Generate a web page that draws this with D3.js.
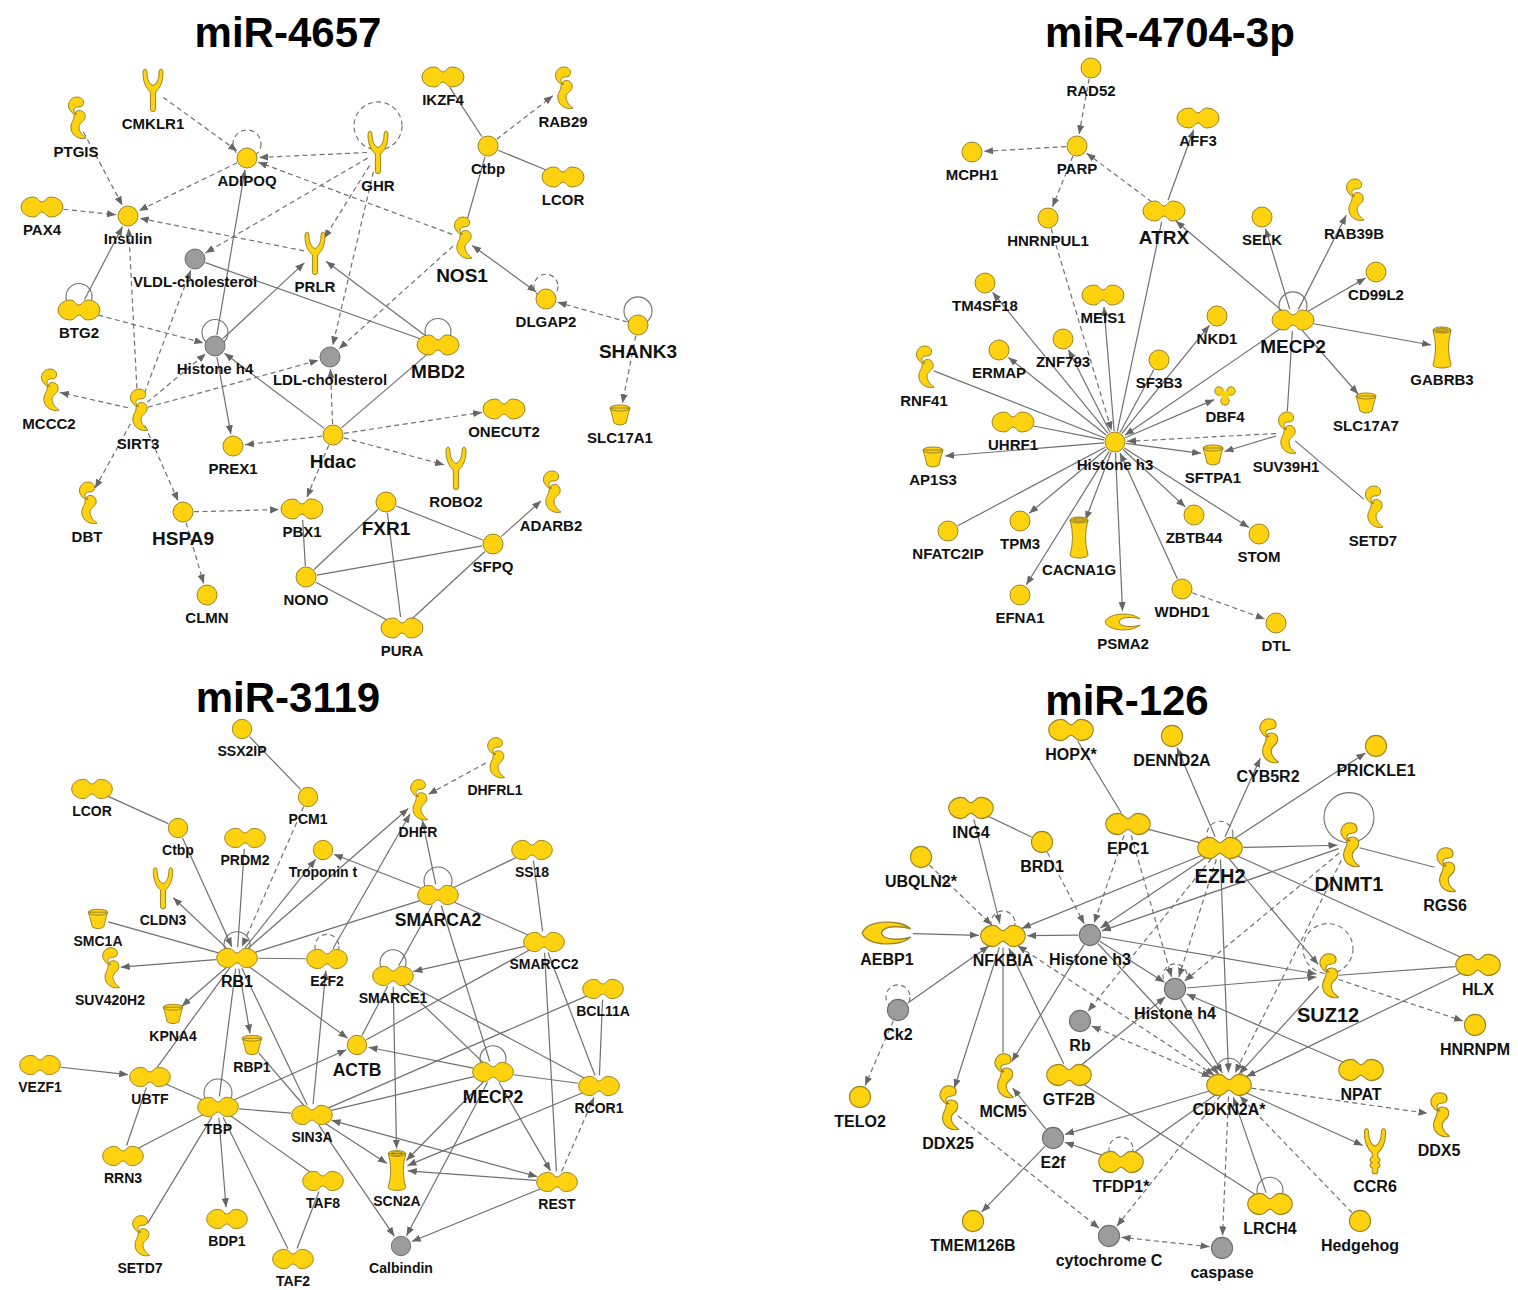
<!DOCTYPE html>
<html>
<head>
<meta charset="utf-8">
<script src="https://cdnjs.cloudflare.com/ajax/libs/d3/7.8.5/d3.min.js"></script>
<style>
  body { margin: 0; background: #fff; }
  svg { display: block; }
</style>
</head>
<body>
<div id="chart"></div>
<script>
const W = 1518, H = 1290;

// panel titles
const titles = ["miR-4657", "miR-4704-3p", "miR-3119", "miR-126"];

// nodes: [id, type, x, y, emphasis]  (panel-local coordinates)
const nodes4657 = [
  ["CMKLR1", "receptor", 153, 90], ["PTGIS", "enzyme", 76, 118], ["ADIPOQ", "circle", 247, 158],
  ["GHR", "receptor", 378, 152], ["IKZF4", "peanut", 443, 77], ["RAB29", "enzyme", 563, 88],
  ["Ctbp", "circle", 488, 146], ["LCOR", "peanut", 563, 177], ["PAX4", "peanut", 42, 207],
  ["Insulin", "circle", 128, 216], ["NOS1", "enzyme", 462, 238, 2], ["VLDL-cholesterol", "group", 195, 259],
  ["PRLR", "receptor", 315, 253], ["BTG2", "peanut", 79, 310], ["DLGAP2", "circle", 546, 299],
  ["SHANK3", "circle", 638, 325, 2], ["Histone h4", "group", 215, 346], ["LDL-cholesterol", "group", 330, 357],
  ["MBD2", "peanut", 438, 345, 2], ["MCCC2", "enzyme", 49, 390], ["SIRT3", "enzyme", 138, 410],
  ["PREX1", "circle", 233, 446], ["Hdac", "circle", 333, 435, 2], ["ONECUT2", "peanut", 504, 409],
  ["SLC17A1", "transporter", 620, 415], ["ROBO2", "receptor", 456, 468], ["DBT", "enzyme", 87, 503],
  ["HSPA9", "circle", 183, 512, 2], ["PBX1", "peanut", 302, 509], ["FXR1", "circle", 386, 502, 2],
  ["ADARB2", "enzyme", 551, 492], ["SFPQ", "circle", 493, 544], ["NONO", "circle", 306, 577],
  ["CLMN", "circle", 207, 595], ["PURA", "peanut", 402, 628]
];
// edges: [source, target, line (s solid / d dashed), arrow (t target / b both / "" none)]
const edges4657 = [
  ["CMKLR1", "ADIPOQ", "d", "t"], ["PTGIS", "Insulin", "d", "t"], ["PAX4", "Insulin", "d", "t"],
  ["ADIPOQ", "Insulin", "d", "t"], ["GHR", "ADIPOQ", "d", "t"], ["NOS1", "ADIPOQ", "d", "t"],
  ["GHR", "VLDL-cholesterol", "d", "t"], ["GHR", "PRLR", "d", "t"], ["GHR", "LDL-cholesterol", "d", "t"],
  ["PRLR", "Insulin", "d", "t"], ["BTG2", "Insulin", "s", "t"], ["BTG2", "Histone h4", "d", "t"],
  ["SIRT3", "Insulin", "d", "t"], ["SIRT3", "VLDL-cholesterol", "d", "t"], ["Histone h4", "ADIPOQ", "s", "t"],
  ["Histone h4", "PRLR", "s", "t"], ["VLDL-cholesterol", "MBD2", "s", ""], ["MBD2", "PRLR", "s", "t"],
  ["NOS1", "LDL-cholesterol", "d", "t"], ["SIRT3", "MCCC2", "d", "t"], ["SIRT3", "Histone h4", "d", "t"],
  ["SIRT3", "LDL-cholesterol", "d", "t"], ["SIRT3", "DBT", "d", "t"], ["SIRT3", "HSPA9", "d", "t"],
  ["HSPA9", "PBX1", "d", "t"], ["HSPA9", "CLMN", "d", "t"], ["Histone h4", "PREX1", "s", "t"],
  ["Hdac", "PREX1", "d", "t"], ["Hdac", "Histone h4", "s", "t"], ["Hdac", "LDL-cholesterol", "d", "t"],
  ["Hdac", "PBX1", "d", "t"], ["Hdac", "ONECUT2", "d", "t"], ["Hdac", "ROBO2", "d", "t"],
  ["Hdac", "MBD2", "s", ""], ["PBX1", "NONO", "s", ""], ["NONO", "FXR1", "s", ""],
  ["NONO", "SFPQ", "s", ""], ["NONO", "PURA", "s", ""], ["FXR1", "SFPQ", "s", ""],
  ["FXR1", "PURA", "s", ""], ["SFPQ", "PURA", "s", ""], ["SFPQ", "ADARB2", "s", "t"],
  ["Ctbp", "IKZF4", "s", ""], ["Ctbp", "RAB29", "d", "t"], ["Ctbp", "LCOR", "s", ""],
  ["Ctbp", "NOS1", "s", ""], ["NOS1", "DLGAP2", "s", "b"], ["SHANK3", "DLGAP2", "d", "t"],
  ["SHANK3", "SLC17A1", "d", "t"]
];
// self loops: [id, line, radius]
const loops4657 = [
  ["ADIPOQ", "d", 14], ["GHR", "d", 24], ["BTG2", "s", 13], ["Histone h4", "s", 13],
  ["DLGAP2", "d", 12], ["SHANK3", "s", 14], ["MBD2", "s", 13]
];

const nodes4704 = [
  ["RAD52", "circle", 331, 68], ["PARP", "circle", 317, 146], ["MCPH1", "circle", 212, 152],
  ["AFF3", "peanut", 438, 118], ["HNRNPUL1", "circle", 288, 218], ["ATRX", "peanut", 404, 211, 2],
  ["SELK", "circle", 502, 217], ["RAB39B", "enzyme", 594, 200], ["CD99L2", "circle", 616, 272],
  ["TM4SF18", "circle", 225, 283], ["MEIS1", "peanut", 343, 295], ["NKD1", "circle", 457, 316],
  ["MECP2", "peanut", 533, 320, 2], ["ZNF793", "circle", 303, 339], ["ERMAP", "circle", 239, 350],
  ["SF3B3", "circle", 399, 360], ["GABRB3", "ion", 682, 347], ["RNF41", "enzyme", 164, 367],
  ["DBF4", "kinase", 465, 395], ["SLC17A7", "transporter", 606, 403], ["UHRF1", "peanut", 253, 422],
  ["Histone h3", "circle", 355, 442], ["SUV39H1", "enzyme", 526, 433], ["AP1S3", "transporter", 173, 457],
  ["SFTPA1", "transporter", 453, 455], ["SETD7", "enzyme", 613, 507], ["ZBTB44", "circle", 434, 515],
  ["TPM3", "circle", 260, 521], ["NFATC2IP", "circle", 188, 531], ["STOM", "circle", 499, 534],
  ["CACNA1G", "ion", 319, 537], ["EFNA1", "circle", 260, 595], ["WDHD1", "circle", 422, 589],
  ["PSMA2", "peptidase", 363, 622], ["DTL", "circle", 516, 623]
];
const edges4704 = [
  ["RAD52", "PARP", "d", "t"], ["PARP", "MCPH1", "d", "t"], ["PARP", "HNRNPUL1", "d", "t"],
  ["ATRX", "PARP", "d", "t"], ["ATRX", "AFF3", "s", "t"], ["MECP2", "ATRX", "s", "t"],
  ["HNRNPUL1", "Histone h3", "d", "t"], ["Histone h3", "ATRX", "s", ""], ["Histone h3", "TM4SF18", "s", "t"],
  ["Histone h3", "MEIS1", "s", "t"], ["Histone h3", "ERMAP", "s", "t"], ["Histone h3", "ZNF793", "s", "t"],
  ["SF3B3", "Histone h3", "s", ""], ["Histone h3", "NKD1", "s", "t"], ["RNF41", "Histone h3", "s", ""],
  ["UHRF1", "Histone h3", "s", ""], ["Histone h3", "AP1S3", "s", "t"], ["Histone h3", "DBF4", "s", "t"],
  ["MECP2", "Histone h3", "s", "t"], ["SUV39H1", "Histone h3", "d", "t"], ["Histone h3", "SFTPA1", "s", "t"],
  ["SUV39H1", "SFTPA1", "s", "t"], ["SUV39H1", "SETD7", "s", ""], ["MECP2", "SUV39H1", "s", ""],
  ["MECP2", "SELK", "s", "t"], ["MECP2", "RAB39B", "s", "t"], ["MECP2", "CD99L2", "s", "t"],
  ["MECP2", "GABRB3", "s", "t"], ["MECP2", "SLC17A7", "s", "t"], ["NFATC2IP", "Histone h3", "s", ""],
  ["Histone h3", "TPM3", "s", "t"], ["Histone h3", "CACNA1G", "s", "t"], ["Histone h3", "EFNA1", "s", "t"],
  ["Histone h3", "PSMA2", "s", "t"], ["WDHD1", "Histone h3", "s", "t"], ["Histone h3", "ZBTB44", "s", "t"],
  ["Histone h3", "STOM", "s", "t"], ["WDHD1", "DTL", "d", "t"]
];
const loops4704 = [["MECP2", "s", 14]];

const nodes3119 = [
  ["SSX2IP", "circle", 242, 69], ["DHFRL1", "enzyme", 495, 98], ["LCOR", "peanut", 92, 129],
  ["PCM1", "circle", 308, 137], ["DHFR", "enzyme", 418, 140], ["Ctbp", "circle", 178, 168],
  ["PRDM2", "peanut", 245, 178], ["Troponin t", "circle", 323, 190], ["SS18", "peanut", 532, 190],
  ["CLDN3", "receptor", 163, 228], ["SMARCA2", "peanut", 438, 235, 2], ["SMC1A", "transporter", 98, 259],
  ["SMARCC2", "peanut", 544, 282], ["RB1", "peanut", 237, 298, 1], ["E2F2", "peanut", 327, 299],
  ["SMARCE1", "peanut", 393, 316], ["SUV420H2", "enzyme", 110, 308], ["BCL11A", "peanut", 603, 329],
  ["KPNA4", "transporter", 173, 354], ["RBP1", "transporter", 252, 385], ["ACTB", "circle", 357, 385, 2],
  ["VEZF1", "peanut", 40, 405], ["UBTF", "peanut", 150, 417], ["MECP2", "peanut", 493, 412, 2],
  ["RCOR1", "peanut", 599, 426], ["TBP", "peanut", 218, 447], ["SIN3A", "peanut", 312, 455],
  ["RRN3", "peanut", 123, 496], ["SCN2A", "ion", 397, 510], ["TAF8", "peanut", 323, 521],
  ["REST", "peanut", 557, 522], ["BDP1", "peanut", 227, 559], ["SETD7", "enzyme", 140, 576],
  ["TAF2", "peanut", 293, 599], ["Calbindin", "group", 401, 586]
];
const edges3119 = [
  ["SSX2IP", "PCM1", "s", ""], ["PCM1", "RB1", "d", "t"], ["LCOR", "Ctbp", "s", ""],
  ["Ctbp", "RB1", "s", "t"], ["PRDM2", "RB1", "s", ""], ["RB1", "CLDN3", "s", "t"],
  ["SMC1A", "RB1", "s", ""], ["RB1", "SUV420H2", "s", "t"], ["RB1", "KPNA4", "s", "t"],
  ["RB1", "Troponin t", "s", "t"], ["RB1", "DHFR", "s", "t"], ["E2F2", "DHFR", "s", "t"],
  ["RB1", "E2F2", "s", ""], ["SMARCA2", "RB1", "s", ""], ["RB1", "ACTB", "s", "t"],
  ["RB1", "RBP1", "s", "t"], ["RB1", "TBP", "s", ""], ["RB1", "UBTF", "s", ""],
  ["RB1", "SIN3A", "s", ""], ["SIN3A", "E2F2", "s", "t"], ["RBP1", "SIN3A", "s", ""],
  ["VEZF1", "UBTF", "s", "t"], ["UBTF", "TBP", "s", ""], ["UBTF", "RRN3", "s", ""],
  ["TBP", "ACTB", "s", "t"], ["TBP", "SIN3A", "s", ""], ["TBP", "RRN3", "s", ""],
  ["TBP", "BDP1", "s", "t"], ["TBP", "SETD7", "s", ""], ["TBP", "TAF2", "s", ""],
  ["TBP", "TAF8", "s", ""], ["TAF8", "TAF2", "s", ""], ["SIN3A", "SCN2A", "s", "t"],
  ["SIN3A", "Calbindin", "s", "t"], ["SIN3A", "BCL11A", "s", ""], ["SIN3A", "MECP2", "s", ""],
  ["REST", "SIN3A", "s", "b"], ["SMARCE1", "ACTB", "s", ""], ["SMARCC2", "ACTB", "s", ""],
  ["MECP2", "ACTB", "s", "t"], ["SMARCA2", "SMARCE1", "s", ""], ["SMARCA2", "Troponin t", "s", "t"],
  ["SMARCA2", "DHFR", "s", "t"], ["SMARCA2", "SS18", "s", ""], ["SMARCA2", "SMARCC2", "s", ""],
  ["SMARCA2", "MECP2", "s", ""], ["SS18", "SMARCC2", "s", ""], ["SMARCC2", "SMARCE1", "s", "t"],
  ["SMARCC2", "REST", "s", ""], ["SMARCC2", "RCOR1", "s", ""], ["SMARCE1", "MECP2", "s", ""],
  ["SMARCE1", "RCOR1", "s", ""], ["SMARCE1", "SCN2A", "s", "t"], ["DHFRL1", "DHFR", "d", "t"],
  ["BCL11A", "RCOR1", "s", ""], ["MECP2", "RCOR1", "s", ""], ["MECP2", "REST", "s", "t"],
  ["MECP2", "SCN2A", "s", "t"], ["MECP2", "Calbindin", "s", "t"], ["RCOR1", "SCN2A", "s", "t"],
  ["REST", "RCOR1", "d", "t"], ["REST", "SCN2A", "s", "t"], ["REST", "Calbindin", "s", "t"]
];
const loops3119 = [
  ["RB1", "s", 13], ["E2F2", "d", 12], ["SMARCA2", "s", 14], ["SMARCE1", "s", 13],
  ["MECP2", "s", 13], ["TBP", "s", 14]
];

const nodes126 = [
  ["HOPX*", "peanut", 311, 70], ["DENND2A", "circle", 412, 76], ["CYB5R2", "enzyme", 508, 81],
  ["PRICKLE1", "circle", 616, 86], ["ING4", "peanut", 211, 148], ["EPC1", "peanut", 368, 164],
  ["BRD1", "circle", 282, 182], ["UBQLN2*", "circle", 161, 197], ["EZH2", "peanut", 460, 188, 2],
  ["DNMT1", "enzyme", 589, 185, 2], ["RGS6", "enzyme", 685, 210], ["AEBP1", "peptidase", 127, 273, 0, 1.3],
  ["NFKBIA", "peanut", 243, 276], ["Histone h3", "group", 330, 275], ["Histone h4", "group", 415, 329],
  ["HLX", "peanut", 718, 305], ["SUZ12", "enzyme", 568, 316, 2], ["Ck2", "group", 138, 350],
  ["Rb", "group", 320, 361], ["HNRNPM", "circle", 715, 365], ["NPAT", "peanut", 601, 410],
  ["CDKN2A*", "peanut", 469, 425], ["TELO2", "circle", 100, 437], ["MCM5", "enzyme", 243, 416],
  ["GTF2B", "peanut", 309, 415], ["DDX25", "enzyme", 188, 448], ["DDX5", "enzyme", 679, 455],
  ["E2f", "group", 293, 478], ["CCR6", "gpcr", 615, 491], ["TFDP1*", "peanut", 361, 502],
  ["LRCH4", "peanut", 510, 544], ["Hedgehog", "circle", 600, 561], ["TMEM126B", "circle", 213, 561],
  ["cytochrome C", "group", 349, 576], ["caspase", "group", 462, 588]
];
const edges126 = [
  ["HOPX*", "EPC1", "s", ""], ["EZH2", "DENND2A", "s", "t"], ["EZH2", "CYB5R2", "s", "t"],
  ["EZH2", "PRICKLE1", "s", "t"], ["EZH2", "DNMT1", "s", "t"], ["EZH2", "HLX", "s", ""],
  ["EZH2", "SUZ12", "s", "t"], ["EZH2", "CDKN2A*", "s", "t"], ["EZH2", "Histone h4", "d", "t"],
  ["EZH2", "NFKBIA", "s", "t"], ["EZH2", "Histone h3", "s", "t"], ["EZH2", "Rb", "d", "t"],
  ["EPC1", "EZH2", "s", ""], ["EPC1", "Histone h3", "d", "t"], ["EPC1", "Histone h4", "d", "t"],
  ["ING4", "BRD1", "s", ""], ["ING4", "NFKBIA", "s", "t"], ["BRD1", "Histone h3", "d", "t"],
  ["UBQLN2*", "NFKBIA", "d", "t"], ["AEBP1", "NFKBIA", "s", "t"], ["Histone h3", "NFKBIA", "s", "t"],
  ["Histone h3", "Histone h4", "s", "t"], ["Histone h3", "SUZ12", "s", "t"], ["Histone h3", "CDKN2A*", "s", "t"],
  ["Histone h3", "MCM5", "s", "t"], ["Ck2", "NFKBIA", "s", "t"], ["Ck2", "TELO2", "d", "t"],
  ["NFKBIA", "DDX25", "s", "t"], ["NFKBIA", "MCM5", "s", ""], ["GTF2B", "NFKBIA", "s", "t"],
  ["CDKN2A*", "NFKBIA", "d", "b"], ["CDKN2A*", "Rb", "d", "b"], ["GTF2B", "Histone h4", "s", "t"],
  ["GTF2B", "LRCH4", "s", ""], ["E2f", "MCM5", "s", "t"], ["E2f", "TMEM126B", "s", "t"],
  ["TFDP1*", "E2f", "s", "t"], ["CDKN2A*", "E2f", "s", "t"], ["TFDP1*", "CDKN2A*", "s", ""],
  ["DDX25", "cytochrome C", "d", "t"], ["CDKN2A*", "cytochrome C", "d", "t"], ["caspase", "cytochrome C", "d", "b"],
  ["CDKN2A*", "caspase", "d", "t"], ["DNMT1", "Histone h4", "d", "t"], ["DNMT1", "CDKN2A*", "d", "t"],
  ["DNMT1", "RGS6", "s", ""], ["DNMT1", "Histone h3", "s", "t"], ["Histone h4", "SUZ12", "s", "t"],
  ["SUZ12", "HLX", "s", ""], ["HLX", "CDKN2A*", "s", "t"], ["SUZ12", "CDKN2A*", "s", "t"],
  ["SUZ12", "HNRNPM", "d", "t"], ["NPAT", "Histone h4", "s", "t"], ["CDKN2A*", "DDX5", "d", "t"],
  ["CDKN2A*", "CCR6", "s", "t"], ["Hedgehog", "CDKN2A*", "d", "t"], ["LRCH4", "CDKN2A*", "s", "t"],
  ["Histone h4", "CDKN2A*", "s", "t"]
];
const loops126 = [
  ["NFKBIA", "d", 12], ["Ck2", "d", 12], ["EZH2", "d", 13], ["DNMT1", "s", 25], ["SUZ12", "d", 25],
  ["Histone h4", "d", 12], ["CDKN2A*", "s", 13], ["TFDP1*", "d", 12], ["LRCH4", "s", 13]
];

// ---------------------------------------------------------------------------
const YELLOW = "#FFD20F", YSTROKE = "#9A8424";
const GRAY = "#9C9C9C", GSTROKE = "#6E6E6E";
const EDGE = "#707070";
const FONT = "'Liberation Sans', Arial, Helvetica, sans-serif";

const panels = [
  { title: titles[0], nodes: nodes4657, edges: edges4657, loops: loops4657, ox: 0, oy: 0, tx: 288, ty: 47, fs: [15, 19, 19], k: 1 },
  { title: titles[1], nodes: nodes4704, edges: edges4704, loops: loops4704, ox: 760, oy: 0, tx: 410, ty: 47, fs: [15, 19, 19], k: 1 },
  { title: titles[2], nodes: nodes3119, edges: edges3119, loops: loops3119, ox: 0, oy: 660, tx: 288, ty: 52, fs: [14, 16, 17.5], k: 0.97 },
  { title: titles[3], nodes: nodes126, edges: edges126, loops: loops126, ox: 760, oy: 660, tx: 367, ty: 55, fs: [16, 20, 20], k: 1.06 }
];

// half extents per glyph type
const HALF = {
  circle: [10, 10], group: [10, 10], peanut: [21, 10], receptor: [10, 21], gpcr: [10, 21],
  enzyme: [9, 21], transporter: [10, 10], ion: [9, 20], kinase: [10, 9], peptidase: [18, 9]
};

const PATHS = {
  peanut: "M-9,-10C-4,-10 -3,-5 0,-5C3,-5 4,-10 9,-10A12,10 0 0 1 9,10C4,10 3,5 0,5C-3,5 -4,10 -9,10A12,10 0 0 1 -9,-10Z",
  receptor: "M-2.6,19.5Q-2.6,21.5 0,21.5Q2.6,21.5 2.6,19.5L2.6,2C7,-2 10,-8 10,-17Q10,-21 8,-21Q6,-21 6,-17C6,-10 3,-5.5 0,-4.5C-3,-5.5 -6,-10 -6,-17Q-6,-21 -8,-21Q-10,-21 -10,-17C-10,-8 -7,-2 -2.6,2Z",
  gpcr: "M-2.6,19.5Q-2.6,21.5 0,21.5Q2.6,21.5 2.6,19.5L2.6,16C5.5,15 5.5,12 2.6,11C5.5,10 5.5,7 2.6,6L2.6,2C7,-2 10,-8 10,-17Q10,-21 8,-21Q6,-21 6,-17C6,-10 3,-5.5 0,-4.5C-3,-5.5 -6,-10 -6,-17Q-6,-21 -8,-21Q-10,-21 -10,-17C-10,-8 -7,-2 -2.6,2L-2.6,6C-5.5,7 -5.5,10 -2.6,11C-5.5,12 -5.5,15 -2.6,16Z",
  enzyme: "M-6,-8C-10,-13 -6,-21 1,-21C6,-21 9,-17 7,-13C5,-10 1,-12 -1,-10C-3,-8 -2,-5 1,-4C-2,-3 -4,-5 -6,-8Z" +
          "M1,-7C6,-9 10,-5 9,0C8,4 3,5 3,9C3,14 7,18 10,20C4,22 -4,18 -5,11C-6,5 -2,2 -2,-1C-2,-4 -1,-6 1,-7Z",
  transporter: "M-10,-7C-8,-1 -7,4 -6,8Q0,12 6,8C7,4 8,-1 10,-7Z M-10,-7A10,3 0 0 0 10,-7A10,3 0 0 0 -10,-7Z",
  ion: "M-9,-17Q-4,0 -9,18A9,3 0 0 0 9,18Q4,0 9,-17Z M-9,-17A9,3 0 0 0 9,-17A9,3 0 0 0 -9,-17Z M-6,-17A6,1.8 0 0 0 6,-17A6,1.8 0 0 0 -6,-17Z",
  peptidase: "M17,-3C10,-10 -14,-10 -18,0C-14,10 10,10 17,3C12,5 -3,6 -4,0C-3,-6 12,-5 17,-3Z"
};

const svg = d3.select("#chart").append("svg")
  .attr("width", W).attr("height", H)
  .attr("viewBox", `0 0 ${W} ${H}`)
  .style("font-family", FONT);

svg.append("rect").attr("width", W).attr("height", H).attr("fill", "#fff");

const defs = svg.append("defs");
defs.append("marker")
  .attr("id", "arrow")
  .attr("viewBox", "0 0 10 8")
  .attr("refX", 10).attr("refY", 4)
  .attr("markerWidth", 9).attr("markerHeight", 7.5)
  .attr("markerUnits", "userSpaceOnUse")
  .attr("orient", "auto-start-reverse")
  .append("path")
  .attr("d", "M0,0L10,4L0,8Z")
  .attr("fill", "#666");

function extent(n, k) {
  const s = k * (n.sz || 1);
  return [HALF[n.type][0] * s, HALF[n.type][1] * s];
}

function rim(n, k, ux, uy) {
  const [rx, ry] = extent(n, k);
  return 1 / Math.sqrt((ux / rx) ** 2 + (uy / ry) ** 2);
}

function drawPanel(p) {
  const x = d3.scaleLinear().domain([0, 760]).range([p.ox, p.ox + 760]);
  const y = d3.scaleLinear().domain([0, 645]).range([p.oy, p.oy + 645]);

  const nodes = p.nodes.map(d => ({ id: d[0], type: d[1], x: x(d[2]), y: y(d[3]), em: d[4] || 0, sz: d[5] || 1 }));
  const byId = new Map(nodes.map(n => [n.id, n]));
  const g = svg.append("g").attr("class", "panel");

  // title
  g.append("text")
    .attr("x", x(p.tx)).attr("y", y(p.ty))
    .attr("text-anchor", "middle")
    .attr("font-size", 42).attr("font-weight", "bold")
    .attr("fill", "#000")
    .text(p.title);

  // edges
  const links = p.edges.map(e => {
    const a = byId.get(e[0]), b = byId.get(e[1]);
    const dx = b.x - a.x, dy = b.y - a.y, len = Math.hypot(dx, dy);
    const ux = dx / len, uy = dy / len;
    const ga = rim(a, p.k, ux, uy) + (e[3] === "b" ? 2 : 1);
    const gb = rim(b, p.k, ux, uy) + (e[3] ? 2 : 1);
    return {
      x1: a.x + ux * ga, y1: a.y + uy * ga,
      x2: b.x - ux * gb, y2: b.y - uy * gb,
      dash: e[2] === "d", arrow: e[3]
    };
  });

  g.append("g").selectAll("line").data(links).join("line")
    .attr("x1", d => d.x1).attr("y1", d => d.y1)
    .attr("x2", d => d.x2).attr("y2", d => d.y2)
    .attr("stroke", EDGE).attr("stroke-width", 1.2)
    .attr("stroke-dasharray", d => d.dash ? "5,3.5" : null)
    .attr("marker-end", d => d.arrow ? "url(#arrow)" : null)
    .attr("marker-start", d => d.arrow === "b" ? "url(#arrow)" : null);

  // self loops
  g.append("g").selectAll("circle").data(p.loops).join("circle")
    .attr("cx", d => byId.get(d[0]).x)
    .attr("cy", d => {
      const n = byId.get(d[0]);
      return n.y - extent(n, p.k)[1] * 0.5 - d[2] * 0.65;
    })
    .attr("r", d => d[2])
    .attr("fill", "none")
    .attr("stroke", EDGE).attr("stroke-width", 1.1)
    .attr("stroke-dasharray", d => d[1] === "d" ? "5,3.5" : null);

  // node glyphs
  const ng = g.append("g").selectAll("g").data(nodes).join("g")
    .attr("transform", d => `translate(${d.x},${d.y}) scale(${p.k * d.sz})`);

  ng.each(function (d) {
    const s = d3.select(this);
    if (d.type === "circle" || d.type === "group") {
      s.append("circle").attr("r", 10)
        .attr("fill", d.type === "group" ? GRAY : YELLOW)
        .attr("stroke", d.type === "group" ? GSTROKE : YSTROKE)
        .attr("stroke-width", 1);
    } else if (d.type === "kinase") {
      [[-6, -4], [6, -4], [0, 6]].forEach(c => {
        s.append("circle").attr("cx", c[0]).attr("cy", c[1]).attr("r", 4.2)
          .attr("fill", YELLOW).attr("stroke", YSTROKE).attr("stroke-width", 1);
      });
      s.append("circle").attr("r", 4.3).attr("fill", YELLOW);
      [[-6, -4], [6, -4], [0, 6]].forEach(c => {
        s.append("circle").attr("cx", c[0]).attr("cy", c[1]).attr("r", 3.2).attr("fill", YELLOW);
      });
    } else {
      s.append("path").attr("d", PATHS[d.type])
        .attr("fill", YELLOW).attr("stroke", YSTROKE)
        .attr("stroke-width", 1).attr("stroke-linejoin", "round");
    }
  });

  // labels
  g.append("g").selectAll("text").data(nodes).join("text")
    .attr("x", d => d.x)
    .attr("y", d => d.y + extent(d, p.k)[1] + p.fs[d.em] * 0.85)
    .attr("dy", "0.35em")
    .attr("text-anchor", "middle")
    .attr("font-size", d => p.fs[d.em])
    .attr("font-weight", "bold")
    .attr("fill", "#111")
    .text(d => d.id);
}

panels.forEach(drawPanel);
</script>
</body>
</html>
